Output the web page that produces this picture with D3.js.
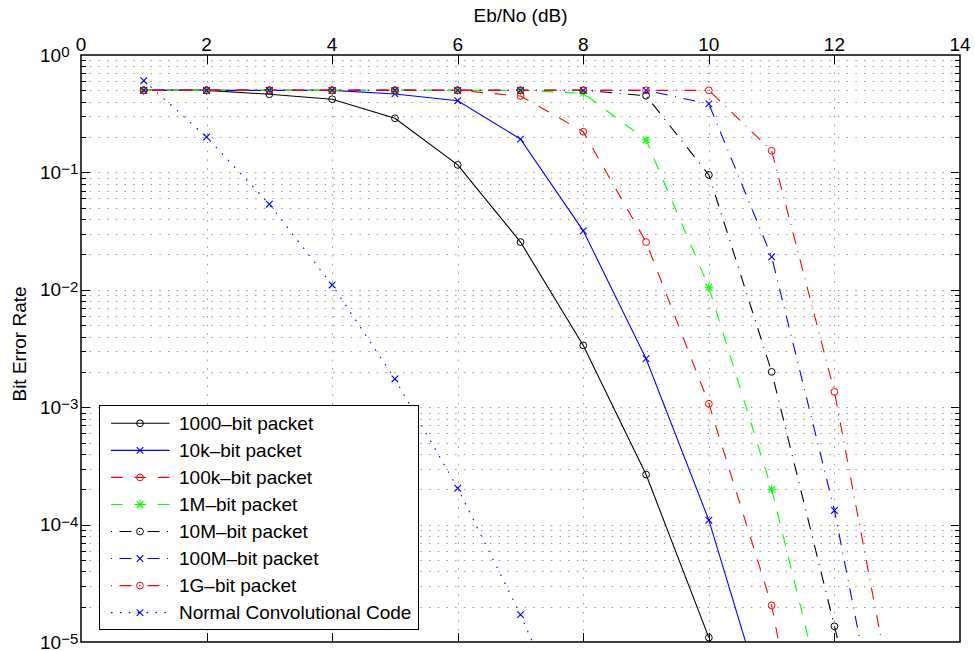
<!DOCTYPE html>
<html>
<head>
<meta charset="utf-8">
<script src="https://cdn.jsdelivr.net/npm/d3@7"></script>
<style>
  body { margin: 0; background: #fff; }
  text { font-family: "Liberation Sans", Arial, Helvetica, sans-serif; fill: #000; }
</style>
</head>
<body>
<div id="chart"></div>
<script>
const width = 975;
const height = 651;

// Data //////////////////////////////
const ebno = [1, 2, 3, 4, 5, 6, 7, 8, 9, 10, 11, 12, 13];

const ber1000 = [0.5, 0.5, 0.463, 0.42, 0.289, 0.116, 0.0255, 0.00336, 2.67e-4, 1.09e-5];
const ber10k = [0.5, 0.5, 0.5, 0.5, 0.466, 0.408, 0.192, 0.0318, 0.00259, 1.09e-4, 1.85e-6];
const ber100k = [0.5, 0.5, 0.5, 0.5, 0.5, 0.5, 0.448, 0.222, 0.0255, 0.00107, 2.05e-5, 3.4e-8];
const ber1M = [0.5, 0.5, 0.5, 0.5, 0.5, 0.5, 0.5, 0.472, 0.189, 0.0105, 2.0e-4, 1.35e-6];
const ber10M = [0.5, 0.5, 0.5, 0.5, 0.5, 0.5, 0.5, 0.5, 0.45, 0.0952, 0.002, 1.36e-5, 1e-7];
const ber100M = [0.5, 0.5, 0.5, 0.5, 0.5, 0.5, 0.5, 0.5, 0.5, 0.383, 0.0191, 1.32e-4, 2.5e-7];
const ber1G = [0.5, 0.5, 0.5, 0.5, 0.5, 0.5, 0.5, 0.5, 0.5, 0.5, 0.153, 0.00135, 2e-6];
const berConv = [0.604, 0.2, 0.0536, 0.011, 0.00174, 2.04e-4, 1.71e-5, 1e-6];

const seriesNames = [
  "1000\u2013bit packet",
  "10k\u2013bit packet",
  "100k\u2013bit packet",
  "1M\u2013bit packet",
  "10M\u2013bit packet",
  "100M\u2013bit packet",
  "1G\u2013bit packet",
  "Normal Convolutional Code"
];
const seriesValues = [ber1000, ber10k, ber100k, ber1M, ber10M, ber100M, ber1G, berConv];

const xTicks = [0, 2, 4, 6, 8, 10, 12, 14];
const yExponents = [0, -1, -2, -3, -4, -5];

// Styles (matlab-like line specs)
const dashed = "11.7,11.7";
const dashDot = "1,7.5,12,7.5";
const dotted = "1.5,7.4";
const seriesStyles = [
  { color: "#000000", dash: null, marker: "o" },
  { color: "#0000ff", dash: null, marker: "x" },
  { color: "#ff0000", dash: dashed, marker: "o" },
  { color: "#00ff00", dash: dashed, marker: "*" },
  { color: "#000000", dash: dashDot, marker: "o" },
  { color: "#0000ff", dash: dashDot, marker: "x" },
  { color: "#ff0000", dash: dashDot, marker: "o" },
  { color: "#0000ff", dash: dotted, marker: "x" }
];

// Layout
const plot = { left: 81, right: 960, top: 55, bottom: 642 };

const x = d3.scaleLinear().domain([0, 14]).range([plot.left, plot.right]);
const y = d3.scaleLog().domain([1e-5, 1]).range([plot.bottom, plot.top]);

const svg = d3
  .select("#chart")
  .append("svg")
  .attr("width", width)
  .attr("height", height);

svg.append("defs")
  .append("clipPath")
  .attr("id", "plotClip")
  .append("rect")
  .attr("x", plot.left)
  .attr("y", plot.top)
  .attr("width", plot.right - plot.left)
  .attr("height", plot.bottom - plot.top);

// Grid //////////////////////////////
const yGridValues = [];
yExponents.forEach(e => {
  yGridValues.push(Math.pow(10, e));
  if (e > -5) {
    for (let k = 2; k <= 9; k++) yGridValues.push(k * Math.pow(10, e - 1));
  }
});

const grid = svg.append("g")
  .style("stroke", "#9a9a9a")
  .style("stroke-width", 1)
  .style("stroke-dasharray", "1.5,7.2");

grid.selectAll(".hgrid")
  .data(yGridValues.filter(v => v < 1 && v > 1e-5))
  .enter()
  .append("line")
  .attr("x1", plot.left)
  .attr("x2", plot.right)
  .attr("y1", d => Math.round(y(d)) + 0.5)
  .attr("y2", d => Math.round(y(d)) + 0.5);

grid.selectAll(".vgrid")
  .data(xTicks.filter(v => v > 0 && v < 14))
  .enter()
  .append("line")
  .attr("x1", d => Math.round(x(d)) + 0.5)
  .attr("x2", d => Math.round(x(d)) + 0.5)
  .attr("y1", plot.top)
  .attr("y2", plot.bottom);

// Draw functions //////////////////////////////
const drawMarker = (g, type, cx, cy, color) => {
  if (type === "o") {
    g.append("circle")
      .attr("cx", cx)
      .attr("cy", cy)
      .attr("r", 3.4)
      .style("fill", "none")
      .style("stroke", color)
      .style("stroke-width", 1);
  } else {
    const s = 3.3;
    const segs = [[-s, -s, s, s], [-s, s, s, -s]];
    if (type === "*") segs.push([0, -s - 0.8, 0, s + 0.8], [-s - 0.8, 0, s + 0.8, 0]);
    segs.forEach(p => {
      g.append("line")
        .attr("x1", cx + p[0])
        .attr("y1", cy + p[1])
        .attr("x2", cx + p[2])
        .attr("y2", cy + p[3])
        .style("stroke", color)
        .style("stroke-width", 1.1);
    });
  }
};

const line = d3.line()
  .x(d => x(d[0]))
  .y(d => y(d[1]));

const linesG = svg.append("g").attr("clip-path", "url(#plotClip)");
const markersG = svg.append("g");

seriesValues.forEach((values, i) => {
  const style = seriesStyles[i];
  const pts = values.map((v, j) => [ebno[j], v]);
  linesG.append("path")
    .datum(pts)
    .attr("d", line)
    .style("fill", "none")
    .style("stroke", style.color)
    .style("stroke-width", 1.1)
    .style("stroke-dasharray", style.dash);
  pts.filter(p => p[1] >= 1e-5 && p[1] <= 1).forEach(p => {
    drawMarker(markersG, style.marker, x(p[0]), y(p[1]), style.color);
  });
});

// Axes box and ticks //////////////////////////////
const axisG = svg.append("g").style("stroke", "#000");

axisG.append("rect")
  .attr("x", plot.left)
  .attr("y", plot.top)
  .attr("width", plot.right - plot.left)
  .attr("height", plot.bottom - plot.top)
  .style("fill", "none")
  .style("stroke-width", 1.5);

xTicks.filter(v => v > 0 && v < 14).forEach(v => {
  const px = Math.round(x(v)) + 0.5;
  axisG.append("line").attr("x1", px).attr("x2", px)
    .attr("y1", plot.top).attr("y2", plot.top + 9);
  axisG.append("line").attr("x1", px).attr("x2", px)
    .attr("y1", plot.bottom).attr("y2", plot.bottom - 9);
});

yGridValues.filter(v => v < 1 && v > 1e-5).forEach(v => {
  const py = Math.round(y(v)) + 0.5;
  const isMajor = Math.abs(Math.log10(v) - Math.round(Math.log10(v))) < 1e-9;
  const len = isMajor ? 9 : 5;
  axisG.append("line").attr("x1", plot.left).attr("x2", plot.left + len)
    .attr("y1", py).attr("y2", py);
  axisG.append("line").attr("x1", plot.right).attr("x2", plot.right - len)
    .attr("y1", py).attr("y2", py);
});

// Tick labels
svg.selectAll(".xlabel")
  .data(xTicks)
  .enter()
  .append("text")
  .attr("x", d => x(d))
  .attr("y", 51)
  .attr("text-anchor", "middle")
  .style("font-size", "19px")
  .text(d => d);

const yLabels = svg.selectAll(".ylabel")
  .data(yExponents)
  .enter()
  .append("text")
  .attr("x", 40)
  .attr("y", d => y(Math.pow(10, d)) + 6.5)
  .style("font-size", "19px");
yLabels.append("tspan").text("10");
yLabels.append("tspan")
  .attr("dy", -4.6)
  .style("font-size", "15px")
  .text(d => (d < 0 ? "\u2212" + (-d) : d));

// Axis titles
svg.append("text")
  .attr("x", (plot.left + plot.right) / 2)
  .attr("y", 22)
  .attr("text-anchor", "middle")
  .style("font-size", "19px")
  .text("Eb/No (dB)");

svg.append("text")
  .attr("transform", "translate(26,344) rotate(-90)")
  .attr("text-anchor", "middle")
  .style("font-size", "19px")
  .text("Bit Error Rate");

// Legend //////////////////////////////
const legend = { x: 99, y: 405, w: 319, h: 224, row: 27.05, first: 18.3 };
const legendG = svg.append("g");

legendG.append("rect")
  .attr("x", legend.x + 0.5)
  .attr("y", legend.y + 0.5)
  .attr("width", legend.w)
  .attr("height", legend.h)
  .style("fill", "#fff")
  .style("stroke", "#000")
  .style("stroke-width", 1);

seriesNames.forEach((name, i) => {
  const style = seriesStyles[i];
  const ry = legend.y + legend.first + i * legend.row;
  legendG.append("line")
    .attr("x1", legend.x + 12)
    .attr("x2", legend.x + 70.5)
    .attr("y1", ry)
    .attr("y2", ry)
    .style("stroke", style.color)
    .style("stroke-width", 1.1)
    .style("stroke-dasharray", style.dash);
  drawMarker(legendG, style.marker, legend.x + 41, ry, style.color);
  legendG.append("text")
    .attr("x", legend.x + 80)
    .attr("y", ry + 6.8)
    .style("font-size", "19px")
    .text(name);
});
</script>
</body>
</html>
